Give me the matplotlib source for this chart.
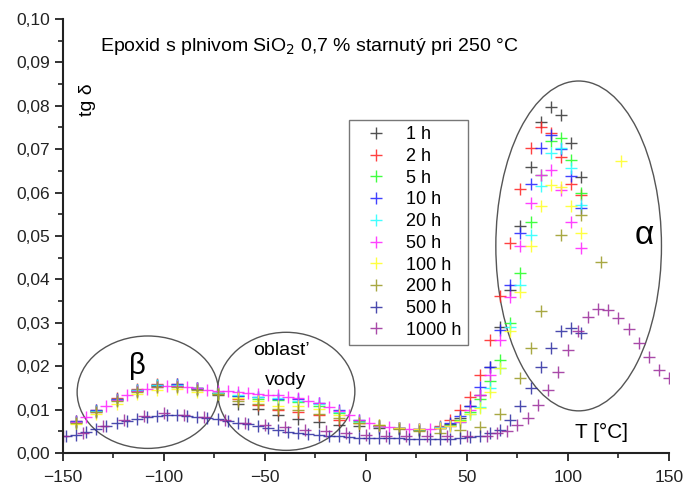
import numpy as np
import matplotlib
matplotlib.use('Agg')
import matplotlib.pyplot as plt
from matplotlib.patches import Ellipse
from matplotlib.ticker import MultipleLocator, FuncFormatter
from matplotlib import rcParams
rcParams['font.family'] = ['Liberation Sans', 'DejaVu Sans']
rcParams['axes.linewidth'] = 1.5

# temperature grids (deg C)
t_low = [-143.5, -133.5, -123.5, -113.5, -103.5, -93.5, -83.5, -73.5, -63.5, -53.5,
         -43.5, -33.5, -23.5, -13.5, -3.5, 6.5, 16.5, 26.5, 36.5]
t_high = [41.5, 46.5, 51.5, 56.5, 61.5, 66.5, 71.5, 76.5, 81.5, 86.5, 91.5, 96.5, 101.5, 106.5]
t_early = t_low + t_high

tg_1h = [0.0071, 0.0096, 0.0121, 0.0142, 0.0155, 0.0154, 0.0147, 0.0133, 0.0113, 0.0102,
         0.0087, 0.0078, 0.0072, 0.0065, 0.0061, 0.0058, 0.0057, 0.0053, 0.0058,
         0.0066, 0.0080, 0.0109, 0.0134, 0.0199, 0.0290, 0.0376, 0.0522, 0.0658, 0.0763,
         0.0798, 0.0779, 0.0714, 0.0635]
tg_2h = [0.0074, 0.0099, 0.0126, 0.0148, 0.0160, 0.0160, 0.0150, 0.0138, 0.0124, 0.0111,
         0.0099, 0.0095, 0.0088, 0.0077, 0.0068, 0.0062, 0.0058, 0.0055, 0.0061,
         0.0076, 0.0099, 0.0130, 0.0180, 0.0260, 0.0362, 0.0483, 0.0608, 0.0702, 0.0752,
         0.0737, 0.0683, 0.0620, 0.0594]
tg_5h = [0.0072, 0.0097, 0.0124, 0.0145, 0.0157, 0.0157, 0.0149, 0.0139, 0.0131, 0.0125,
         0.0122, 0.0118, 0.0108, 0.0092, 0.0073, 0.0062, 0.0057, 0.0054, 0.0058,
         0.0064, 0.0075, 0.0095, 0.0125, 0.0165, 0.0214, 0.0300, 0.0415, 0.0532, 0.0640,
         0.0718, 0.0725, 0.0675, 0.0600]
tg_10h = [0.0073, 0.0098, 0.0124, 0.0145, 0.0157, 0.0158, 0.0150, 0.0139, 0.0131, 0.0128,
          0.0124, 0.0124, 0.0115, 0.0098, 0.0075, 0.0062, 0.0058, 0.0056, 0.0060,
          0.0068, 0.0085, 0.0109, 0.0153, 0.0199, 0.0283, 0.0387, 0.0506, 0.0620, 0.0702,
          0.0733, 0.0700, 0.0637, 0.0564]
tg_20h = [0.0072, 0.0097, 0.0123, 0.0144, 0.0156, 0.0157, 0.0149, 0.0139, 0.0134, 0.0130,
          0.0126, 0.0120, 0.0112, 0.0094, 0.0072, 0.0061, 0.0057, 0.0055, 0.0059,
          0.0062, 0.0072, 0.0090, 0.0107, 0.0150, 0.0195, 0.0290, 0.0386, 0.0502, 0.0615,
          0.0691, 0.0702, 0.0656, 0.0571]

t_50h = [-143.5, -138.5, -133.5, -128.5, -123.5, -118.5, -113.5, -108.5, -103.5, -98.5,
         -93.5, -88.5, -83.5, -78.5, -73.5, -68.5, -63.5, -58.5, -53.5, -48.5,
         -43.5, -38.5, -33.5, -28.5, -23.5, -18.5, -13.5, -8.5, -3.5, 1.5,
         6.5, 11.5, 16.5, 21.5, 26.5, 31.5, 36.5, 41.5, 46.5, 51.5,
         56.5, 61.5, 66.5, 71.5, 76.5, 81.5, 86.5, 91.5, 96.5, 101.5, 106.5]
tg_50h = [0.0072, 0.0082, 0.0095, 0.0108, 0.0122, 0.0133, 0.0142, 0.0148, 0.0152, 0.0154,
          0.0155, 0.0153, 0.0150, 0.0146, 0.0143, 0.0143, 0.0141, 0.0138, 0.0136, 0.0134,
          0.0133, 0.0130, 0.0126, 0.0120, 0.0114, 0.0106, 0.0097, 0.0088, 0.0076, 0.0068,
          0.0061, 0.0059, 0.0057, 0.0056, 0.0055, 0.0056, 0.0058, 0.0061, 0.0072, 0.0099,
          0.0134, 0.0180, 0.0260, 0.0360, 0.0477, 0.0577, 0.0640, 0.0652, 0.0606, 0.0533, 0.0472]

t_100h = t_early + [126.5]
tg_100h = [0.0066, 0.0089, 0.0113, 0.0135, 0.0146, 0.0147, 0.0141, 0.0135, 0.0126, 0.0119,
           0.0108, 0.0108, 0.0102, 0.0088, 0.0070, 0.0064, 0.0058, 0.0055, 0.0058,
           0.0063, 0.0073, 0.0090, 0.0103, 0.0140, 0.0195, 0.0280, 0.0372, 0.0477, 0.0569,
           0.0618, 0.0612, 0.0569, 0.0506, 0.0673]

t_200h = t_low + [46.5, 56.5, 66.5, 76.5, 81.5, 86.5, 96.5, 106.5, 116.5]
tg_200h = [0.0070, 0.0094, 0.0120, 0.0141, 0.0153, 0.0153, 0.0146, 0.0136, 0.0120, 0.0112,
           0.0102, 0.0098, 0.0090, 0.0080, 0.0068, 0.0064, 0.0056, 0.0050, 0.0045,
           0.0053, 0.0059, 0.0090, 0.0172, 0.0241, 0.0326, 0.0502, 0.0548, 0.0441]

t_500h = [-148.5, -143.5, -138.5, -133.5, -128.5, -123.5, -118.5, -113.5, -108.5, -103.5,
          -98.5, -93.5, -88.5, -83.5, -78.5, -73.5, -68.5, -63.5, -58.5, -53.5,
          -48.5, -43.5, -38.5, -33.5, -28.5, -23.5, -18.5, -13.5, -8.5, -3.5,
          1.5, 6.5, 11.5, 16.5, 21.5, 26.5, 31.5, 36.5, 41.5, 46.5,
          51.5, 56.5, 61.5, 66.5, 71.5, 76.5, 81.5, 86.5, 91.5, 96.5, 101.5, 106.5]
tg_500h = [0.0038, 0.0041, 0.0048, 0.0055, 0.0061, 0.0068, 0.0074, 0.0079, 0.0083, 0.0086,
           0.0087, 0.0087, 0.0085, 0.0082, 0.0080, 0.0078, 0.0074, 0.0070, 0.0066, 0.0062,
           0.0057, 0.0053, 0.0049, 0.0046, 0.0043, 0.0041, 0.0039, 0.0038, 0.0036, 0.0035,
           0.0035, 0.0034, 0.0034, 0.0034, 0.0033, 0.0033, 0.0033, 0.0033, 0.0033, 0.0034,
           0.0036, 0.0039, 0.0045, 0.0053, 0.0076, 0.0109, 0.0149, 0.0197, 0.0241, 0.0280,
           0.0287, 0.0276]

t_1000h = [-150, -140, -130, -120, -110, -100, -90, -80, -70, -60, -50, -40, -30, -20, -10,
           0, 10, 20, 30, 40, 50, 60, 65, 70, 75, 80, 85, 90, 95, 100, 105, 110, 115, 120,
           125, 130, 135, 140, 145, 150]
tg_1000h = [0.0038, 0.0046, 0.0061, 0.0075, 0.0085, 0.0091, 0.0088, 0.0082, 0.0077, 0.0070,
            0.0065, 0.0060, 0.0053, 0.0050, 0.0047, 0.0042, 0.0039, 0.0038, 0.0038, 0.0038,
            0.0038, 0.0039, 0.0047, 0.0051, 0.0065, 0.0080, 0.0111, 0.0144, 0.0186, 0.0237,
            0.0280, 0.0313, 0.0332, 0.0329, 0.0312, 0.0285, 0.0253, 0.0222, 0.0191, 0.0172]

series = [
    ('1 h', t_early, tg_1h, '#333333'),
    ('2 h', t_early, tg_2h, '#ff2020'),
    ('5 h', t_early, tg_5h, '#20ff20'),
    ('10 h', t_early, tg_10h, '#2020ff'),
    ('20 h', t_early, tg_20h, '#20ffff'),
    ('50 h', t_50h, tg_50h, '#ff20ff'),
    ('100 h', t_100h, tg_100h, '#ffff20'),
    ('200 h', t_200h, tg_200h, '#999922'),
    ('500 h', t_500h, tg_500h, '#2a2aa0'),
    ('1000 h', t_1000h, tg_1000h, '#9a2a9a'),
]

fig = plt.figure(figsize=(6.87, 4.86), dpi=100)
ax = fig.add_axes([0.0917, 0.068, 0.882, 0.893])

for label, t, tg, color in series:
    ax.plot(t, tg, linestyle='none', marker='+', markersize=8, markeredgewidth=1.0,
            color=color, alpha=0.85, label=label)

ax.set_xlim(-150, 150)
ax.set_ylim(0, 0.10)
ax.spines['top'].set_visible(False)
ax.spines['right'].set_visible(False)
ax.spines['left'].set_color('#222222')
ax.spines['bottom'].set_color('#222222')
ax.xaxis.set_major_locator(MultipleLocator(50))
ax.xaxis.set_minor_locator(MultipleLocator(25))
ax.yaxis.set_major_locator(MultipleLocator(0.01))
ax.yaxis.set_minor_locator(MultipleLocator(0.005))
ax.yaxis.set_major_formatter(FuncFormatter(lambda v, p: f'{v:.2f}'.replace('.', ',')))
ax.tick_params(which='major', direction='out', length=6, width=1.3, labelsize=12.5, colors='#222222')
ax.tick_params(which='minor', direction='out', length=3.5, width=1.2, colors='#222222')
ax.tick_params(axis='x', pad=6)

# region ellipses
for xy, w, h in [((-108, 0.0140), 70, 0.0259), ((-39.5, 0.0142), 68, 0.0272),
                 ((105.3, 0.0477), 82, 0.0760)]:
    ax.add_patch(Ellipse(xy, w, h, fill=False, edgecolor='#555555', linewidth=1.0))

ax.text(-113, 0.0200, '\u03b2', fontsize=21, ha='center', va='center')
ax.text(-42, 0.0236, 'oblast’', fontsize=14, ha='center', va='center')
ax.text(-40, 0.0168, 'vody', fontsize=14, ha='center', va='center')
ax.text(138, 0.0502, '\u03b1', fontsize=24, ha='center', va='center')
ax.text(116.5, 0.0048, 'T [°C]', fontsize=15, ha='center', va='center')
ax.text(-138, 0.0815, 'tg \u03b4', fontsize=14, ha='center', va='center', rotation=90)
ax.text(-131.5, 0.0937, r'Epoxid s plnivom SiO$_2$ 0,7 % starnutý pri 250 °C',
        fontsize=14, ha='left', va='center')

leg = ax.legend(loc='upper left', bbox_to_anchor=(0.472, 0.767), fontsize=13,
                frameon=True, fancybox=False, edgecolor='#777777', framealpha=1,
                handlelength=2.3, handletextpad=0.5, labelspacing=0.26,
                borderpad=0.35, borderaxespad=0)
leg.get_frame().set_linewidth(1.0)

plt.savefig('out.png', dpi=100)
